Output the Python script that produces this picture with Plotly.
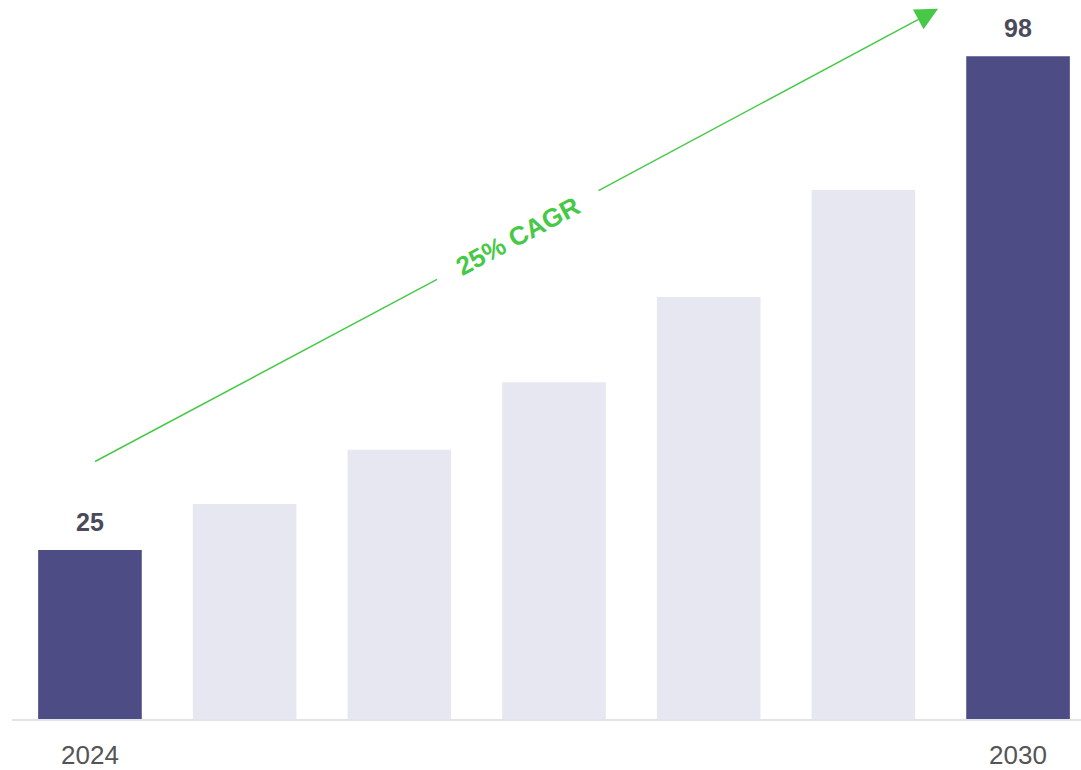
import plotly.graph_objects as go

years = ["2024", "2025", "2026", "2027", "2028", "2029", "2030"]
values = [25, 31.8, 39.8, 49.8, 62.4, 78.2, 98]
value_labels = ["25", "", "", "", "", "", "98"]
tick_labels = ["2024", "", "", "", "", "", "2030"]
highlight = [True, False, False, False, False, False, True]
cagr_text = "25% CAGR"

DARK = "#4e4c84"
LIGHT = "#e7e7f2"
GREEN = "#47c947"
FONT = "Liberation Sans, Arial, sans-serif"

colors = [DARK if h else LIGHT for h in highlight]

fig = go.Figure()
fig.add_trace(go.Bar(x=years, y=values, marker=dict(color=colors, line=dict(width=0)),
                     hoverinfo="skip"))

for i, (v, lab) in enumerate(zip(values, value_labels)):
    if lab:
        fig.add_annotation(x=i, y=v, xref="x", yref="y", text=f"<b>{lab}</b>", showarrow=False,
                           yanchor="bottom", yshift=12,
                           font=dict(family=FONT, size=25, color="#4a4a5c"))

# CAGR arrow: first segment, then second segment with arrowhead
fig.add_shape(type="line", xref="x", yref="y", x0=0.033, y0=38.07, x1=2.244, y1=65.0,
              line=dict(color=GREEN, width=1.5))
fig.add_annotation(x=5.483, y=105.0, ax=3.278, ay=78.0, xref="x", yref="y",
                   axref="x", ayref="y", text="", showarrow=True,
                   arrowhead=2, arrowsize=3, arrowwidth=1.5, arrowcolor=GREEN, standoff=0)
fig.add_annotation(x=2.767, y=71.4, xref="x", yref="y", text=f"<b>{cagr_text}</b>", showarrow=False,
                   textangle=-28.3, font=dict(family=FONT, size=26, color=GREEN))

fig.update_layout(
    width=1081, height=770,
    margin=dict(l=12, r=0, t=0, b=44),
    paper_bgcolor="white", plot_bgcolor="white",
    bargap=0.33, showlegend=False,
    xaxis=dict(type="category", range=[-0.504, 6.407], tickmode="array",
               tickvals=years, ticktext=tick_labels, showgrid=False, zeroline=False,
               showline=True, linecolor="#e2e2ea", linewidth=2, ticks="",
               tickfont=dict(family=FONT, size=26, color="#555555"),
               ticklabelstandoff=12, fixedrange=True),
    yaxis=dict(range=[0, 106.3], visible=False, showgrid=False, zeroline=False, fixedrange=True),
)

fig.write_html("out.html", config={"displayModeBar": False},
               post_script="document.body.style.margin='0';document.body.style.overflow='hidden';")
